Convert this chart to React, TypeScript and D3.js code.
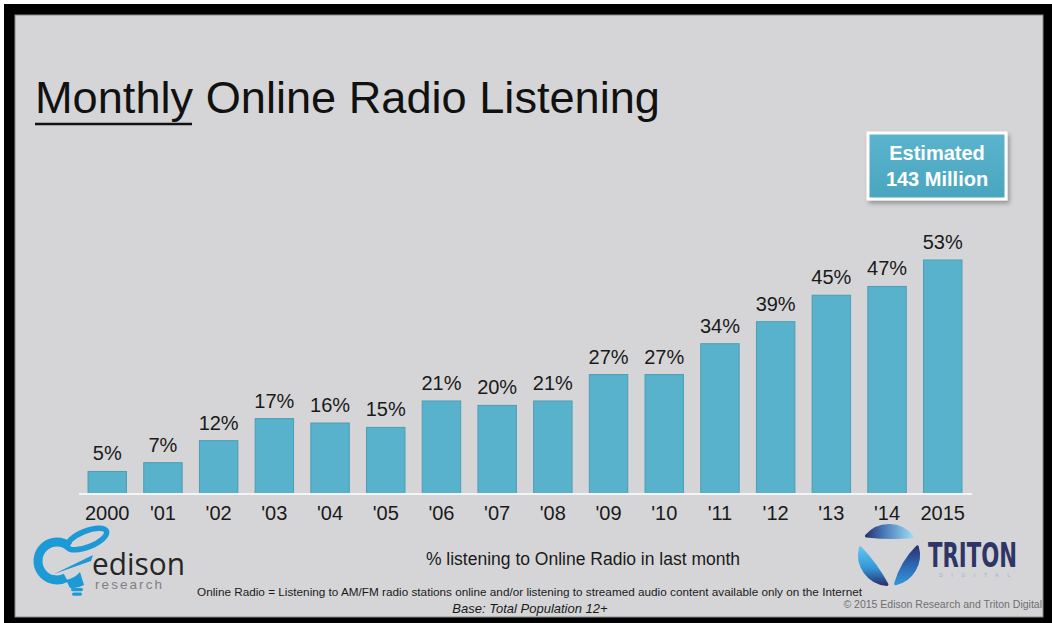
import React from "react";
import * as d3 from "d3";

const categories = ["2000", "'01", "'02", "'03", "'04", "'05", "'06", "'07", "'08", "'09", "'10", "'11", "'12", "'13", "'14", "2015"];
const values = [5, 7, 12, 17, 16, 15, 21, 20, 21, 27, 27, 34, 39, 45, 47, 53];
const valueLabels = ["5%", "7%", "12%", "17%", "16%", "15%", "21%", "20%", "21%", "27%", "27%", "34%", "39%", "45%", "47%", "53%"];

const W = 1052;
const H = 623;
const BASE_Y = 493.5;
const FONT = "'Liberation Sans', Arial, Helvetica, sans-serif";

const deg = (d: number) => (d * Math.PI) / 180;
// angle measured clockwise from 12 o'clock
const pt = (a: number, r: number) => [r * Math.sin(deg(a)), -r * Math.cos(deg(a))];

function crescent(a0: number, a1: number, R: number, rIn: number) {
  const p = d3.path();
  const P0 = pt(a0, R);
  const P1 = pt(a1, R);
  const M = pt((a0 + a1) / 2, rIn);
  const C = [2 * (M[0] - 0.25 * (P0[0] + P1[0])), 2 * (M[1] - 0.25 * (P0[1] + P1[1]))];
  p.moveTo(P0[0], P0[1]);
  p.arc(0, 0, R, deg(a0 - 90), deg(a1 - 90), false);
  p.quadraticCurveTo(C[0], C[1], P0[0], P0[1]);
  p.closePath();
  return p.toString();
}

export default function App() {
  const x = d3.scaleBand<string>().domain(categories).range([79.4, 970.6]).paddingInner(0.31).paddingOuter(0.155);
  const y = d3.scaleLinear().domain([0, 53]).range([BASE_Y, 260]);

  const segs = [
    { s: -50, e: 52, g: "gTop" },
    { s: 74, e: 167, g: "gRight" },
    { s: 184, e: 284, g: "gLeft" },
  ];

  const ringPath = (() => {
    const cx = 57, cy = 561, r = 19;
    const a0 = deg(-50), a1 = deg(62);
    const p0 = [cx + r * Math.cos(a0), cy + r * Math.sin(a0)];
    const p1 = [cx + r * Math.cos(a1), cy + r * Math.sin(a1)];
    return `M${p0[0]},${p0[1]} A${r},${r} 0 1 0 ${p1[0]},${p1[1]}`;
  })();

  return (
    <svg width={W} height={H} style={{ position: "absolute", left: 0, top: 0 }} fontFamily={FONT}>
      <defs>
        <linearGradient id="boxG" x1="0" y1="0" x2="0" y2="1">
          <stop offset="0" stopColor="#5bb4ce" />
          <stop offset="1" stopColor="#4aa5bf" />
        </linearGradient>
        <filter id="shadow" x="-20%" y="-20%" width="140%" height="150%">
          <feDropShadow dx="2" dy="3" stdDeviation="2" floodColor="#000" floodOpacity="0.3" />
        </filter>
        <linearGradient id="gTop" x1="0" y1="0" x2="1" y2="0">
          <stop offset="0" stopColor="#2b3472" />
          <stop offset="0.4" stopColor="#4a7dba" />
          <stop offset="1" stopColor="#9ad9f1" />
        </linearGradient>
        <linearGradient id="gRight" x1="0" y1="0" x2="0" y2="1">
          <stop offset="0" stopColor="#2b3472" />
          <stop offset="0.5" stopColor="#2d67b3" />
          <stop offset="1" stopColor="#2f95d6" />
        </linearGradient>
        <linearGradient id="gLeft" x1="0" y1="0" x2="0" y2="1">
          <stop offset="0" stopColor="#62c4ee" />
          <stop offset="0.55" stopColor="#3497d6" />
          <stop offset="1" stopColor="#2b3472" />
        </linearGradient>
      </defs>

      <rect x={0} y={0} width={W} height={H} fill="#ffffff" />
      <rect x={4} y={4} width={W - 4} height={H - 4} fill="#000000" />
      <rect x={15} y={15} width={1028} height={602} fill="#d5d5d7" stroke="#8a8a8a" strokeWidth={1} />

      {/* Title */}
      <text x={35} y={113} fontSize={44} fill="#111" textLength={625} lengthAdjust="spacingAndGlyphs">Monthly Online Radio Listening</text>
      <line x1={35} x2={192} y1={124} y2={124} stroke="#111" strokeWidth={2.5} />

      {/* Estimated box */}
      <g filter="url(#shadow)">
        <rect x={868} y={133} width={138} height={66} fill="url(#boxG)" stroke="#ffffff" strokeWidth={3} />
      </g>
      <text x={937} y={160} textAnchor="middle" fontSize={20} fontWeight="bold" fill="#ffffff">Estimated</text>
      <text x={937} y={186} textAnchor="middle" fontSize={20} fontWeight="bold" fill="#ffffff">143 Million</text>

      {/* Bars */}
      {categories.map((c, i) => (
        <g key={c}>
          <rect
            x={x(c)}
            y={y(values[i])}
            width={x.bandwidth()}
            height={BASE_Y - y(values[i])}
            fill="#59b2cb"
            stroke="#4b9db6"
            strokeWidth={1}
          />
          <text x={(x(c) as number) + x.bandwidth() / 2} y={y(values[i]) - 11} textAnchor="middle" fontSize={20} fill="#1a1a1a">
            {valueLabels[i]}
          </text>
          <text x={(x(c) as number) + x.bandwidth() / 2} y={520} textAnchor="middle" fontSize={20} fill="#1a1a1a">
            {c}
          </text>
        </g>
      ))}
      <line x1={79} x2={972} y1={BASE_Y + 0.5} y2={BASE_Y + 0.5} stroke="#f4f4f4" strokeWidth={2} />

      {/* Captions */}
      <text x={583} y={565} textAnchor="middle" fontSize={17.5} fill="#1a1a1a">% listening to Online Radio in last month</text>
      <text x={197} y={596} fontSize={11.6} fill="#1a1a1a" textLength={665} lengthAdjust="spacingAndGlyphs">
        Online Radio = Listening to AM/FM radio stations online and/or listening to streamed audio content available only on the Internet
      </text>
      <text x={530} y={613} textAnchor="middle" fontSize={13} fontStyle="italic" fill="#1a1a1a">Base: Total Population 12+</text>
      <text x={1042} y={608} textAnchor="end" fontSize={10.5} fill="#6f6f6f">© 2015 Edison Research and Triton Digital</text>

      {/* Edison logo */}
      <g>
        <path d={ringPath} fill="none" stroke="#1d9ad6" strokeWidth={9} />
        <ellipse cx={87} cy={539} rx={21} ry={8} transform="rotate(-22 87 539)" fill="none" stroke="#1d9ad6" strokeWidth={5.5} />
        <path d="M54,574 L93,555 L91,561 Z" fill="#1d9ad6" />
        <path d="M66,580 Q75,578 80,572 L84,585 Q77,589 70,588 Z" fill="#1d9ad6" />
        <rect x={71} y={588} width={12} height={3.2} rx={1.6} fill="#1d9ad6" />
        <rect x={72} y={592.5} width={10} height={3.2} rx={1.6} fill="#1d9ad6" />
        <text x={92} y={575} fontSize={31} fill="#262626" fontFamily="'Open Sans', 'Liberation Sans', sans-serif" textLength={93} lengthAdjust="spacingAndGlyphs">edison</text>
        <text x={95} y={589} fontSize={13.5} fill="#7f7f7f" textLength={67} lengthAdjust="spacing">research</text>
      </g>

      {/* Triton logo */}
      <g transform="translate(889,555)">
        {segs.map((s) => (
          <path
            key={s.g}
            d={crescent(s.s, s.e, 29.5, 17.5)}
            fill={`url(#${s.g})`}
            stroke={`url(#${s.g})`}
            strokeWidth={3}
            strokeLinejoin="round"
          />
        ))}
      </g>
      <text x={928} y={567} fontSize={33} fontWeight="bold" fill="#2f3566" textLength={89} lengthAdjust="spacingAndGlyphs" fontFamily="'Liberation Sans Narrow', 'DejaVu Sans Condensed', 'Liberation Sans', sans-serif">TRITON</text>
      <text x={939} y={577} fontSize={5} fill="#8ab4d8" textLength={71} lengthAdjust="spacing">DIGITAL</text>
    </svg>
  );
}
